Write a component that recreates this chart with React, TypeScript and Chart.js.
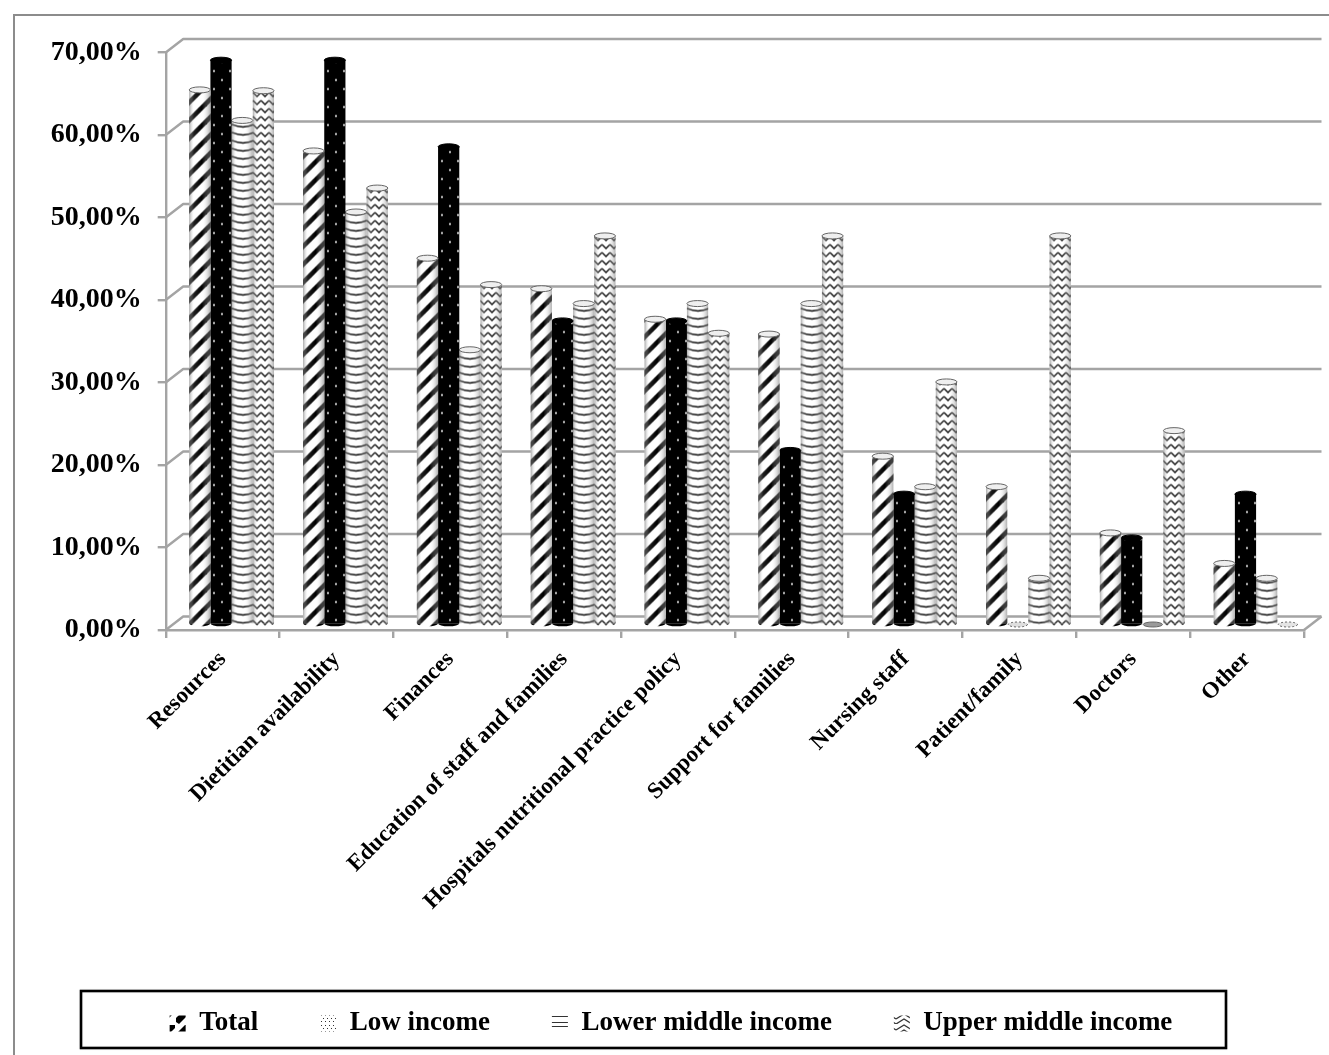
import { useEffect, useRef } from "react";
import { Chart, registerables } from "chart.js";

Chart.register(...registerables);

const categories = [
  "Resources",
  "Dietitian availability",
  "Finances",
  "Education of staff and families",
  "Hospitals nutritional practice policy",
  "Support for families",
  "Nursing staff",
  "Patient/family",
  "Doctors",
  "Other",
];
const total = [64.8, 57.4, 44.4, 40.7, 37.0, 35.2, 20.4, 16.7, 11.1, 7.4];
const lowIncome = [68.4, 68.4, 57.9, 36.8, 36.8, 21.1, 15.8, 0, 10.5, 15.8];
const lowerMiddle = [61.1, 50.0, 33.3, 38.9, 38.9, 38.9, 16.7, 5.6, 0, 5.6];
const upperMiddle = [64.7, 52.9, 41.2, 47.1, 35.3, 47.1, 29.4, 47.1, 23.5, 0];
const seriesNames = ["Total", "Low income", "Lower middle income", "Upper middle income"];

const GRID = "#a4a4a4";
const SERIF = "'Liberation Serif', serif";
const DEPTH_X = 17.5;
const DEPTH_Y = -13.5;
const BAR_SHIFT_X = 9;
const BAR_SHIFT_Y = -5.5;
const CATEGORY_PCT = 0.745;

type Painter = (g: CanvasRenderingContext2D) => void;

function tile(w: number, h: number, paint: Painter): HTMLCanvasElement {
  const c = document.createElement("canvas");
  c.width = w;
  c.height = h;
  const g = c.getContext("2d")!;
  paint(g);
  return c;
}

const paper = (g: CanvasRenderingContext2D, w: number, h: number, color = "#fff") => {
  g.fillStyle = color;
  g.fillRect(0, 0, w, h);
};

// Wide diagonal hatching for the Total cylinders
const stripeTile = () =>
  tile(18, 18, (g) => {
    paper(g, 18, 18);
    g.strokeStyle = "#000";
    g.lineWidth = 4.6;
    for (const o of [-18, 0, 18]) {
      g.beginPath();
      g.moveTo(o - 2, 20);
      g.lineTo(o + 20, -2);
      g.stroke();
    }
  });

// White dots on black for the Low income cylinders
const dotTile = () =>
  tile(16, 18, (g) => {
    paper(g, 16, 18, "#000");
    g.fillStyle = "#fff";
    g.beginPath();
    g.arc(4, 4.5, 1.1, 0, Math.PI * 2);
    g.arc(12, 13.5, 1.1, 0, Math.PI * 2);
    g.fill();
  });

// Curved rings following the front of the Lower middle income cylinders
const ringTile = () =>
  tile(22, 8, (g) => {
    paper(g, 22, 8);
    g.strokeStyle = "#000";
    g.lineWidth = 1.4;
    for (const o of [-8, 0, 8]) {
      g.beginPath();
      g.moveTo(0, o + 2);
      g.quadraticCurveTo(11, o + 7, 22, o + 2);
      g.stroke();
    }
  });

// Zigzag bands for the Upper middle income cylinders
const zigzagTile = () =>
  tile(8, 8, (g) => {
    paper(g, 8, 8);
    g.strokeStyle = "#111";
    g.lineWidth = 1.5;
    for (const o of [-8, 0, 8]) {
      g.beginPath();
      g.moveTo(0, o + 2);
      g.lineTo(4, o + 6);
      g.lineTo(8, o + 2);
      g.stroke();
    }
  });

const legendPaints: Painter[] = [
  (g) => {
    paper(g, 16, 16);
    g.fillStyle = "#000";
    g.beginPath();
    g.moveTo(0, 14);
    g.lineTo(3, 16);
    g.lineTo(15, 4);
    g.lineTo(15, 1);
    g.lineTo(9, 1);
    g.lineTo(0, 10);
    g.fill();
  },
  (g) => {
    paper(g, 16, 16);
    g.fillStyle = "#333";
    for (let y = 1; y < 16; y += 3)
      for (let x = 1 + ((y - 1) % 2 ? 2 : 0); x < 16; x += 4) g.fillRect(x, y, 1, 1);
  },
  (g) => {
    paper(g, 16, 16);
    g.fillStyle = "#333";
    for (const y of [2, 8, 14]) g.fillRect(0, y, 16, 1);
  },
  (g) => {
    paper(g, 16, 16);
    g.strokeStyle = "#333";
    g.lineWidth = 1.3;
    for (const y of [1, 6, 11]) {
      g.beginPath();
      g.moveTo(0, y + 5);
      g.lineTo(8, y);
      g.lineTo(16, y + 5);
      g.stroke();
    }
  },
];

const drawFrame = (chart: Chart) => {
  const { ctx, width, height } = chart;
  ctx.save();
  ctx.fillStyle = "#fff";
  ctx.fillRect(0, 0, width, height);
  ctx.strokeStyle = "#8c8c8c";
  ctx.lineWidth = 2;
  ctx.beginPath();
  ctx.moveTo(14, height);
  ctx.lineTo(14, 15);
  ctx.lineTo(width, 15);
  ctx.stroke();
  ctx.restore();
};

const drawWalls = (chart: Chart) => {
  const { ctx, chartArea } = chart;
  const y = chart.scales.y;
  const { left, right, bottom } = chartArea;
  ctx.save();
  ctx.strokeStyle = GRID;
  ctx.lineWidth = 2.4;
  ctx.lineJoin = "round";
  y.ticks.forEach((t) => {
    const py = y.getPixelForValue(t.value);
    ctx.beginPath();
    ctx.moveTo(left, py);
    ctx.lineTo(left + DEPTH_X, py + DEPTH_Y);
    ctx.lineTo(right + DEPTH_X, py + DEPTH_Y);
    ctx.stroke();
  });
  // Floor edge on the right
  ctx.beginPath();
  ctx.moveTo(right, bottom);
  ctx.lineTo(right + DEPTH_X, bottom + DEPTH_Y);
  ctx.stroke();
  ctx.restore();
};

const drawCylinderParts = (chart: Chart, datasetIndex: number) => {
  const { ctx } = chart;
  const meta = chart.getDatasetMeta(datasetIndex);
  const values = chart.data.datasets[datasetIndex].data as number[];
  const dark = datasetIndex === 1;
  meta.data.forEach((el: any, i: number) => {
    const { x, y, base, width } = el;
    const l = x - width / 2;
    const rx = width / 2;
    ctx.save();
    if (values[i] === 0) {
      ctx.beginPath();
      ctx.ellipse(x, base, rx - 1, 2.5, 0, 0, Math.PI * 2);
      ctx.fillStyle = dark ? "#dedede" : datasetIndex === 2 ? "#9a9a9a" : "#e4e4e4";
      ctx.fill();
      ctx.setLineDash(dark || datasetIndex === 3 ? [2, 2] : []);
      ctx.strokeStyle = "#666";
      ctx.lineWidth = 1;
      ctx.stroke();
      ctx.restore();
      return;
    }
    // Rounded foot of the cylinder
    ctx.beginPath();
    ctx.ellipse(x, base, rx, 3, 0, 0, Math.PI);
    ctx.fillStyle = el.options.backgroundColor;
    ctx.fill();
    // Soft side shading
    if (!dark) {
      const g = ctx.createLinearGradient(l, 0, l + width, 0);
      g.addColorStop(0, "rgba(110,110,110,0.6)");
      g.addColorStop(0.22, "rgba(255,255,255,0.12)");
      g.addColorStop(0.6, "rgba(255,255,255,0)");
      g.addColorStop(1, "rgba(110,110,110,0.55)");
      ctx.fillStyle = g;
      ctx.fillRect(l, y, width, base - y);
    }
    // Top face
    ctx.beginPath();
    ctx.ellipse(x, y, rx, 3, 0, 0, Math.PI * 2);
    ctx.fillStyle = dark ? "#000" : "#efefef";
    ctx.fill();
    ctx.strokeStyle = dark ? "#000" : "#666";
    ctx.lineWidth = 1;
    ctx.stroke();
    ctx.restore();
  });
};

const cylinderScene = {
  id: "cylinderScene",
  beforeDraw: drawFrame,
  afterLayout(chart: any) {
    // Legend row sits a little right of centre inside its frame
    chart.legend.left += 19;
    chart.legend.right += 19;
  },
  beforeDatasetsDraw(chart: Chart) {
    drawWalls(chart);
    chart.ctx.save();
    chart.ctx.translate(BAR_SHIFT_X, BAR_SHIFT_Y);
  },
  afterDatasetDraw(chart: Chart, args: any) {
    drawCylinderParts(chart, args.index);
  },
  afterDatasetsDraw(chart: Chart) {
    chart.ctx.restore();
  },
  beforeDraw2: null,
  afterDraw(chart: Chart) {
    const { ctx } = chart;
    ctx.save();
    ctx.strokeStyle = "#000";
    ctx.lineWidth = 2.5;
    ctx.shadowColor = "rgba(0,0,0,0.35)";
    ctx.shadowBlur = 1;
    ctx.strokeRect(81, 991, 1145, 57);
    ctx.restore();
  },
};

export default function App() {
  const ref = useRef<HTMLCanvasElement>(null);
  useEffect(() => {
    const canvas = ref.current!;
    const g = canvas.getContext("2d")!;
    const tiles = [stripeTile(), dotTile(), ringTile(), zigzagTile()];
    const legendFills = legendPaints.map((p) => g.createPattern(tile(16, 16, p), "repeat")!);

    const fill = (ds: number) => (c: any) => {
      const p = c.chart.ctx.createPattern(tiles[ds], "repeat");
      if (c.dataIndex === undefined) return p;
      const x = c.chart.scales.x;
      const group = (x.width / categories.length) * CATEGORY_PCT;
      const left = x.getPixelForValue(c.dataIndex) - group / 2 + (ds * group) / 4;
      p.setTransform(new DOMMatrix().translate(Math.round(left), 0));
      return p;
    };

    const series = [total, lowIncome, lowerMiddle, upperMiddle];
    const chart = new Chart(canvas, {
      type: "bar",
      data: {
        labels: categories,
        datasets: series.map((data, i) => ({
          label: seriesNames[i],
          data,
          backgroundColor: fill(i),
          borderWidth: 0,
          categoryPercentage: CATEGORY_PCT,
          barPercentage: 1,
          clip: false as any,
        })),
      },
      plugins: [cylinderScene as any],
      options: {
        animation: false,
        responsive: false,
        devicePixelRatio: 1,
        layout: { padding: { top: 52.5, left: 0, right: 25, bottom: 8 } },
        plugins: {
          tooltip: { enabled: false },
          legend: {
            position: "bottom",
            labels: {
              boxWidth: 16,
              boxHeight: 16,
              padding: 62,
              color: "#000",
              font: { family: SERIF, size: 27, weight: "bold" },
              generateLabels: () =>
                seriesNames.map((text, i) => ({
                  text,
                  fillStyle: legendFills[i],
                  strokeStyle: "transparent",
                  lineWidth: 0,
                  datasetIndex: i,
                })) as any,
            },
          },
        },
        scales: {
          x: {
            afterFit(scale: any) {
              const bottomPad = 8;
              scale.height = 1055 - 630 - bottomPad - (scale.chart.legend?.height ?? 0);
            },
            border: { color: GRID, width: 2.4 },
            grid: { drawOnChartArea: false, drawTicks: true, tickLength: 8, color: GRID, lineWidth: 2.4 },
            ticks: {
              autoSkip: false,
              maxRotation: 45,
              minRotation: 45,
              color: "#000",
              padding: 8,
              font: { family: SERIF, size: 23, weight: "bold" },
            },
          },
          y: {
            min: 0,
            max: 70,
            afterFit(scale: any) {
              scale.width = 165.7;
            },
            border: { color: GRID, width: 2.4 },
            grid: { drawOnChartArea: false, drawTicks: true, tickLength: 8, color: GRID, lineWidth: 2.4 },
            ticks: {
              stepSize: 10,
              padding: 16,
              color: "#000",
              font: { family: SERIF, size: 28, weight: "bold" },
              callback: (v: any) => `${Number(v).toFixed(2).replace(".", ",")}%`,
            },
          },
        },
      },
    });
    return () => chart.destroy();
  }, []);
  return (
    <canvas
      ref={ref}
      width={1329}
      height={1055}
      style={{ position: "fixed", top: 0, left: 0, display: "block" }}
    />
  );
}
